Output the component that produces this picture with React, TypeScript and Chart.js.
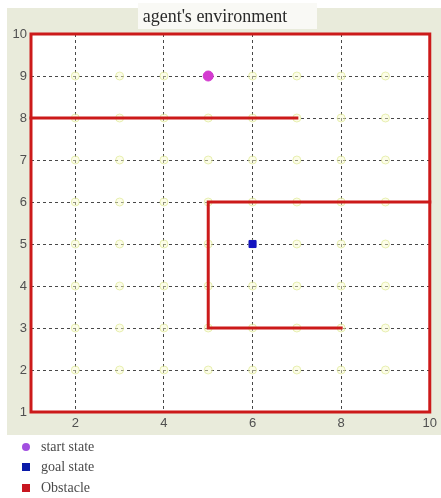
import React, { useEffect, useRef } from "react";
import { Chart, registerables } from "chart.js";

Chart.register(...registerables);

const titleText = "agent's environment";
const xTickValues = [2, 4, 6, 8, 10];
const yTickValues = [1, 2, 3, 4, 5, 6, 7, 8, 9, 10];

const stateCols = [2, 3, 4, 5, 6, 7, 8, 9];
const stateRows = [2, 3, 4, 5, 6, 7, 8, 9];

const startX = [5];
const startY = [9];
const goalX = [6];
const goalY = [5];

const borderX = [1, 1, 10, 10, 1];
const borderY = [1, 10, 10, 1, 1];
const wallTopX = [1, 7];
const wallTopY = [8, 8];
const wallBoxX = [8, 5, 5, 10];
const wallBoxY = [3, 3, 6, 6];

const legendLabels = ["start state", "goal state", "Obstacle"];
const legendColors = ["#A24FE0", "#0A1AA8", "#C81620"];

const zip = (xs: number[], ys: number[]) => xs.map((x, i) => ({ x, y: ys[i] }));

const OBST = "#CC1A1A";

const bgPlugin = {
  id: "bgPlugin",
  beforeDraw(chart: any) {
    const { ctx, chartArea } = chart;
    ctx.save();
    ctx.fillStyle = "#ffffff";
    ctx.fillRect(0, 0, chart.width, chart.height);
    ctx.fillStyle = "#E9EBDB";
    ctx.fillRect(7, 8, chart.width - 7, 435 - 8);
    // title box
    ctx.fillStyle = "#F9F9F5";
    ctx.fillRect(138, 3, 179, 26);
    // plot area
    ctx.fillStyle = "#ffffff";
    ctx.fillRect(chartArea.left, chartArea.top, chartArea.right - chartArea.left, chartArea.bottom - chartArea.top);
    ctx.restore();
  },
};

const legendPlugin = {
  id: "customLegend",
  afterDraw(chart: any) {
    const { ctx } = chart;
    ctx.save();
    ctx.font = "14px 'Liberation Serif', serif";
    ctx.textBaseline = "middle";
    const ys = [447, 467, 488];
    legendLabels.forEach((label, i) => {
      const y = ys[i];
      ctx.fillStyle = legendColors[i];
      if (i === 0) {
        ctx.beginPath();
        ctx.arc(26, y, 4, 0, Math.PI * 2);
        ctx.fill();
      } else {
        ctx.fillRect(22, y - 4, 8, 8);
      }
      ctx.fillStyle = "#4a4a4a";
      ctx.fillText(label, 41, y);
    });
    ctx.restore();
  },
};

export default function App() {
  const ref = useRef<HTMLCanvasElement | null>(null);

  useEffect(() => {
    if (!ref.current) return;
    const statePoints: { x: number; y: number }[] = [];
    stateRows.forEach((y) => stateCols.forEach((x) => statePoints.push({ x, y })));

    const lineDs = (label: string, xs: number[], ys: number[]) => ({
      label,
      data: zip(xs, ys),
      showLine: true,
      borderColor: OBST,
      backgroundColor: OBST,
      borderWidth: 3,
      pointRadius: 0,
      borderCapStyle: "square",
      borderJoinStyle: "miter",
      clip: 6,
      order: 2,
    });

    const chart = new Chart(ref.current, {
      type: "scatter",
      data: {
        datasets: [
          {
            label: "start state",
            data: zip(startX, startY),
            pointStyle: "circle",
            pointRadius: 5,
            backgroundColor: "#D43AD0",
            borderColor: "#D43AD0",
            order: 0,
          },
          {
            label: "goal state",
            data: zip(goalX, goalY),
            pointStyle: "rect",
            pointRadius: 5,
            backgroundColor: "#1414C0",
            borderColor: "#1414C0",
            order: 0,
          },
          lineDs("Obstacle", borderX, borderY),
          lineDs("Obstacle wall 1", wallTopX, wallTopY),
          lineDs("Obstacle wall 2", wallBoxX, wallBoxY),
          {
            label: "states",
            data: statePoints,
            pointStyle: "circle",
            pointRadius: 4,
            borderWidth: 1,
            backgroundColor: "rgba(248,250,205,0.45)",
            borderColor: "rgba(222,232,150,0.7)",
            order: 10,
          },
        ] as any,
      },
      options: {
        responsive: false,
        animation: false,
        events: [],
        layout: { padding: { left: 0, right: 11, top: 0, bottom: 0 } },
        plugins: {
          legend: { display: false },
          tooltip: { enabled: false },
          title: {
            display: true,
            text: titleText,
            color: "#2a2a2a",
            font: { family: "'Liberation Serif', serif", size: 18, weight: "normal" },
            padding: { top: 6, bottom: 6.4 },
          },
        },
        scales: {
          x: {
            type: "linear",
            min: 1,
            max: 10,
            afterBuildTicks: (s: any) => {
              s.ticks = xTickValues.map((v) => ({ value: v }));
            },
            afterFit: (s: any) => {
              s.height = 86;
            },
            border: { display: false, dash: [3, 3] },
            grid: {
              color: "rgba(40,40,40,0.85)",
              lineWidth: 1,
              drawTicks: false,
            },
            ticks: {
              color: "#505050",
              padding: 4,
              maxRotation: 0,
              font: { family: "'Liberation Sans', sans-serif", size: 13 },
            },
          },
          y: {
            type: "linear",
            min: 1,
            max: 10,
            afterBuildTicks: (s: any) => {
              s.ticks = yTickValues.map((v) => ({ value: v }));
            },
            afterFit: (s: any) => {
              s.width = 31;
            },
            border: { display: false, dash: [3, 3] },
            grid: {
              color: "rgba(40,40,40,0.85)",
              lineWidth: 1,
              drawTicks: false,
            },
            ticks: {
              color: "#505050",
              padding: 4,
              font: { family: "'Liberation Sans', sans-serif", size: 13 },
            },
          },
        },
      } as any,
      plugins: [bgPlugin, legendPlugin],
    });

    return () => chart.destroy();
  }, []);

  return (
    <div style={{ position: "absolute", left: 0, top: 0, width: 441, height: 498 }}>
      <canvas ref={ref} width={441} height={498} style={{ display: "block" }} />
    </div>
  );
}
